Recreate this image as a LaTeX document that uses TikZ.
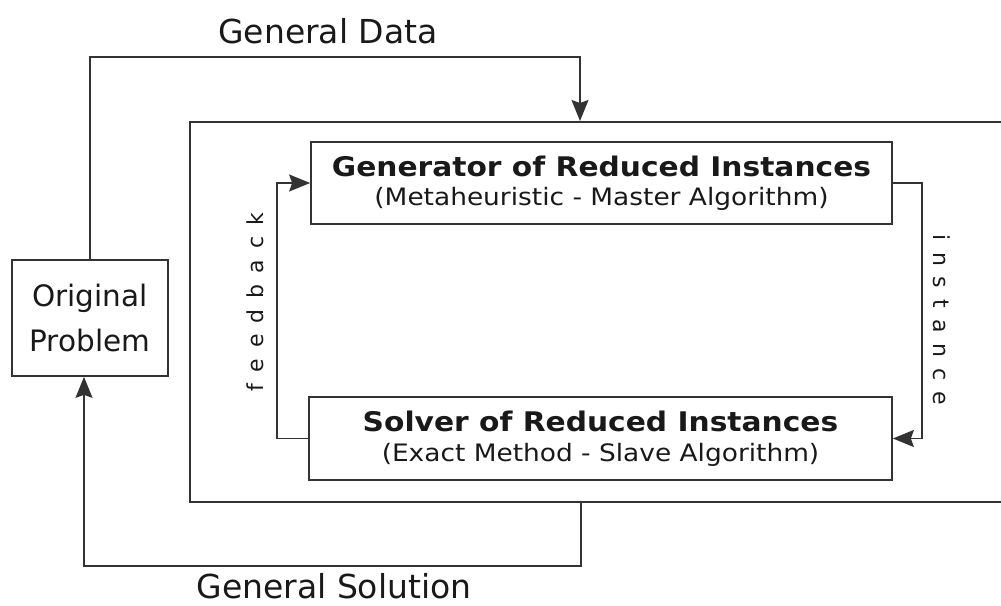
\documentclass[tikz,border=0pt]{standalone}
\usepackage{fontspec}
\setmainfont{DejaVu Sans}
\usepackage{graphicx}
\usetikzlibrary{arrows.meta}
\begin{document}
\begin{tikzpicture}[x=1pt,y=1pt,
  line/.style={line width=1.7pt, draw=black!80},
  arr/.style={line, -{Stealth[length=21pt,width=17pt,inset=3pt]}},
  box/.style={line, rectangle, inner sep=0pt, text=black!90},
  lbl/.style={text=black!90, inner sep=0pt},
  spaced/.style={lbl, font=\fontsize{22}{24}\selectfont\addfontfeature{LetterSpace=50}}
]
\useasboundingbox (0,0) rectangle (1001,-605);
% boxes
\node[box, minimum width=830pt, minimum height=380pt, anchor=north west] (outer) at (189,-121) {};
\node[box, minimum width=156pt, minimum height=116pt, align=center,
      font=\fontsize{29.5}{45}\selectfont] (orig) at (90,-318) {Original\\Problem};
\node[box, minimum width=581pt, minimum height=82pt, align=center,
      font=\fontsize{27}{29.5}\selectfont] (gen) at (601.5,-183)
  {\bfseries\scalebox{1.1}[1]{Generator of Reduced Instances}\\
   \fontsize{24}{29.5}\selectfont\scalebox{1.1}[1]{(Metaheuristic - Master Algorithm)}};
\node[box, minimum width=583pt, minimum height=83pt, align=center,
      font=\fontsize{27}{29.5}\selectfont] (solver) at (600.5,-438.5)
  {\bfseries\scalebox{1.1}[1]{Solver of Reduced Instances}\\
   \fontsize{24}{29.5}\selectfont\scalebox{1.1}[1]{(Exact Method - Slave Algorithm)}};
% connectors
\draw[arr] (gen.east) -- (922,-183) |- (solver.east);
\draw[arr] (solver.west) -- (277,-438.5) |- (gen.west);
\draw[arr] (orig.north) |- (580,-57) -- (580,0 |- outer.north);
\draw[arr] (581,0 |- outer.south) |- (84,-566) -- (84,0 |- orig.south);
% labels
\node[lbl, font=\fontsize{33}{40}\selectfont, anchor=base] (gd) at (328,-43) {General Data};
\node[lbl, font=\fontsize{33}{40}\selectfont, anchor=base] (gs) at (334,-598) {General Solution};
\node[spaced, rotate=90] (fb) at (255,-302) {feedback};
\node[spaced, rotate=-90] (inst) at (942,-320) {instance};
\end{tikzpicture}
\end{document}
